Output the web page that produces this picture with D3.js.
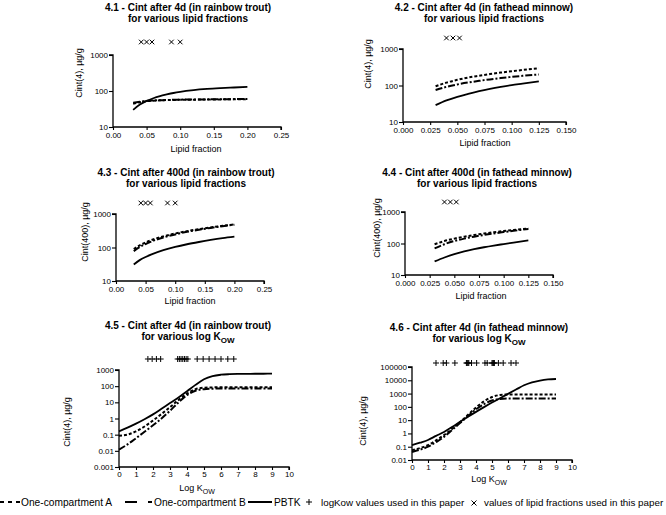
<!DOCTYPE html>
<html><head><meta charset="utf-8">
<script src="https://cdn.jsdelivr.net/npm/d3@7"></script>
<style>body{margin:0;background:#fff} text{font-family:"Liberation Sans",Arial,sans-serif;fill:#000}</style>
</head><body><svg id="c" width="666" height="515"></svg>
<script>
// ---------- data ----------
const lipid41 = [0.03,0.04,0.05,0.06,0.07,0.08,0.09,0.10,0.12,0.14,0.16,0.18,0.20];
const A41 = [44,49,52,54,55,56,56.5,57,57.5,58,58.5,59,59];
const B41 = [47,50,53,54.5,55.5,56,57,57.5,58,58.5,59,59.5,60];
const P41 = [30,42,53,63,72,80,88,95,106,114,120,125,130];

const lipid42 = [0.03,0.04,0.05,0.06,0.07,0.08,0.09,0.10,0.11,0.125];
const A42 = [95,120,143,165,185,206,226,246,266,295];
const B42 = [75,92,107,121,134,147,160,172,184,200];
const P42 = [29,39,49,59,70,81,92,103,113,130];

const lipid43 = [0.03,0.04,0.05,0.06,0.08,0.10,0.12,0.14,0.16,0.18,0.20];
const A43 = [90,116,141,167,215,262,308,354,399,443,488];
const B43 = [78,103,127,151,199,246,294,339,385,433,480];
const P43 = [31,42,52,62,83,104,125,146,168,190,210];

const lipid44 = [0.03,0.04,0.05,0.06,0.07,0.08,0.09,0.10,0.11,0.125];
const A44 = [95,120,143,165,186,207,228,249,270,300];
const B44 = [70,95,120,143,165,187,209,230,252,290];
const P44 = [27,36,46,56,66,76,86,96,107,125];

const logKow = [0,0.5,1,1.5,2,2.5,3,3.5,4,4.5,5,5.5,6,6.5,7,7.5,8,8.5,9];
const A45 = [0.085,0.1,0.16,0.32,0.75,1.9,5,14,35,65,80,84,85,85,85,85,85,85,85];
const B45 = [0.012,0.025,0.06,0.15,0.38,1.0,3,10,28,52,65,70,72,72,72,72,72,72,72];
const P45 = [0.16,0.27,0.48,0.9,1.8,4,9,20,48,120,270,420,510,550,570,580,585,588,590];

const A46 = [0.055,0.08,0.13,0.3,0.75,2.2,7,25,90,260,550,780,850,860,860,860,860,860,860];
const B46 = [0.04,0.06,0.1,0.22,0.55,1.8,6,20,65,160,300,390,420,420,420,420,420,420,420];
const P46 = [0.13,0.2,0.32,0.65,1.3,3,7.5,18,42,95,210,450,950,2000,4200,7000,9500,11500,12500];

const lipidTrout = [0.042,0.05,0.058,0.087,0.1];
const lipidMinnow = [0.04,0.046,0.052];
const kowTrout = [1.7,1.95,2.2,2.45,3.45,3.55,3.65,3.75,3.85,3.95,4.05,4.6,4.95,5.3,5.65,6.0,6.4,6.75];
const kowMinnow = [1.5,1.95,2.15,2.68,3.4,3.45,3.5,3.55,3.72,4.04,4.56,4.7,5.0,5.05,5.1,5.15,5.4,5.7,6.19,6.5];

const ticksLipid025 = [0,0.05,0.10,0.15,0.20,0.25];
const ticksLipid015 = [0,0.025,0.05,0.075,0.10,0.125,0.15];
const ticksKow = [0,1,2,3,4,5,6,7,8,9,10];
const ticksY3 = [10,100,1000];
const ticksY45 = [0.001,0.01,0.1,1,10,100,1000];
const ticksY46 = [0.01,0.1,1,10,100,1000,10000,100000];
const labelsY45 = ["0.001","0.01","0.1","1","10","100","1000"];
const labelsY46 = ["0.01","0.1","1","10","100","1000","10000","100000"];

const seriesNames = ["One-compartment A","One-compartment B","PBTK"];

// ---------- layout ----------
const panels = [
 {t1:"4.1 - Cint after 4d (in rainbow trout)", t2:"for various lipid fractions", tx:188, ty:10.5,
  xr:[113,281], xd:[0,0.25], xt:ticksLipid025, xf:d3.format(".2f"), xp:2, yr:[127,55], yd:[10,1000], yt:ticksY3, yf:d3.format("d"),
  yl:"Cint(4),  µg/g", ylx:79, yly:73, xl:"Lipid fraction", xlx:196, xly:152, x:lipid41, A:A41, B:B41, P:P41,
  marks:lipidTrout, mk:"x", my:42},
 {t1:"4.2 - Cint after 4d (in fathead minnow)", t2:"for various lipid fractions", tx:484, ty:10.5,
  xr:[403,566], xd:[0,0.15], xt:ticksLipid015, xf:d3.format(".3f"), xp:2, yr:[122,49], yd:[10,1000], yt:ticksY3, yf:d3.format("d"),
  yl:"Cint(4),  µg/g", ylx:368, yly:64, xl:"Lipid fraction", xlx:485, xly:146, x:lipid42, A:A42, B:B42, P:P42,
  marks:lipidMinnow, mk:"x", my:38},
 {t1:"4.3 - Cint after 400d (in rainbow trout)", t2:"for various lipid fractions", tx:186, ty:175.5,
  xr:[116,264], xd:[0,0.25], xt:ticksLipid025, xf:d3.format(".2f"), xp:2, yr:[281,214], yd:[10,1000], yt:ticksY3, yf:d3.format("d"),
  yl:"Cint(400),  µg/g", ylx:85, yly:232, xl:"Lipid fraction", xlx:190, xly:304, x:lipid43, A:A43, B:B43, P:P43,
  marks:lipidTrout, mk:"x", my:203},
 {t1:"4.4 - Cint after 400d (in fathead minnow)", t2:"for various lipid fractions", tx:477, ty:175.5,
  xr:[405,553], xd:[0,0.15], xt:ticksLipid015, xf:d3.format(".3f"), xp:2, yr:[275,212], yd:[10,1000], yt:ticksY3, yf:d3.format("d"),
  yl:"Cint(400),  µg/g", ylx:377, yly:228, xl:"Lipid fraction", xlx:481, xly:299, x:lipid44, A:A44, B:B44, P:P44,
  marks:lipidMinnow, mk:"x", my:202},
 {t1:"4.5 - Cint after 4d (in rainbow trout)", t2:"for various log K", sub:true, tx:188, ty:328.5,
  xr:[119,289], xd:[0,10], xt:ticksKow, xf:d3.format("d"), xp:1, yr:[467,370], yd:[0.001,1000], yt:ticksY45, ylabels:labelsY45,
  yl:"Cint(4),  µg/g", ylx:67, yly:422, xl:"Log K", xsub:true, xlx:197, xly:491, x:logKow, A:A45, B:B45, P:P45,
  marks:kowTrout, mk:"+", my:359},
 {t1:"4.6 - Cint after 4d (in fathead minnow)", t2:"for various log K", sub:true, tx:479, ty:330.5,
  xr:[412,572], xd:[0,10], xt:ticksKow, xf:d3.format("d"), xp:1, yr:[460,367], yd:[0.01,100000], yt:ticksY46, ylabels:labelsY46,
  yl:"Cint(4),  µg/g", ylx:363, yly:421, xl:"Log K", xsub:true, xlx:489, xly:482, x:logKow, A:A46, B:B46, P:P46,
  marks:kowMinnow, mk:"+", my:363}
];

const styles = {A:{dash:"3,2", w:2}, B:{dash:"7,2,2,2", w:2}, P:{dash:null, w:1.8}};

const svg = d3.select("#c");

panels.forEach(p => {
  const g = svg.append("g");
  const x = d3.scaleLinear().domain(p.xd).range(p.xr);
  const y = d3.scaleLog().domain(p.yd).range(p.yr);

  // title
  g.append("text").attr("x",p.tx).attr("y",p.ty).attr("text-anchor","middle")
    .style("font-weight","bold").style("font-size","10px").text(p.t1);
  const t2 = g.append("text").attr("x",p.tx).attr("y",p.ty+11.5).attr("text-anchor","middle")
    .style("font-weight","bold").style("font-size","10px").text(p.t2);
  if (p.sub) t2.append("tspan").attr("dy",3).style("font-size","8px").text("OW");

  // axes
  const xa = d3.axisBottom(x).tickValues(p.xt).tickFormat(p.xf).tickSize(3).tickPadding(p.xp);
  const ya = d3.axisLeft(y).tickValues(p.yt).tickSize(4).tickPadding(1)
    .tickFormat((d,i) => p.ylabels ? p.ylabels[i] : p.yf(d));
  const gx = g.append("g").attr("transform",`translate(0,${p.yr[0]})`).call(xa);
  const gy = g.append("g").attr("transform",`translate(${p.xr[0]},0)`).call(ya);
  [gx,gy].forEach(a => {
    a.select(".domain").attr("stroke","#000").attr("stroke-width",1.3);
    a.selectAll(".tick line").attr("stroke","#000").attr("stroke-width",1.1);
    a.selectAll(".tick text").style("font-size","8px").attr("fill","#000");
  });
  gx.select(".domain").attr("d",`M${p.xr[0]},0H${p.xr[1]}V3`);
  gy.select(".domain").attr("d",`M-4,${p.yr[1]}H0V${p.yr[0]}`);

  // axis titles
  g.append("text").attr("transform",`translate(${p.ylx},${p.yly}) rotate(-90)`)
    .attr("text-anchor","middle").attr("dominant-baseline","central").style("font-size","9px").text(p.yl);
  const xl = g.append("text").attr("x",p.xlx).attr("y",p.xly).attr("text-anchor","middle").style("font-size","9px").text(p.xl);
  if (p.xsub) xl.append("tspan").attr("dy",2.5).style("font-size","7px").text("OW");

  // curves
  const line = d3.line().x(d=>x(d[0])).y(d=>y(d[1])).curve(d3.curveMonotoneX);
  ["A","B","P"].forEach(k => {
    const pts = p.x.map((v,i)=>[v,p[k][i]]);
    g.append("path").attr("d",line(pts)).attr("fill","none").attr("stroke","#000")
      .attr("stroke-width",styles[k].w).attr("stroke-dasharray",styles[k].dash);
  });

  // marks
  g.selectAll(".mk").data(p.marks).enter().append("path")
    .attr("transform",d=>`translate(${x(d)},${p.my})`)
    .attr("d", p.mk==="x" ? "M-2.3,-2.3L2.3,2.3M-2.3,2.3L2.3,-2.3" : "M-3,0H3M0,-3V3")
    .attr("stroke","#000").attr("stroke-width",1).attr("fill","none");
});

// ---------- legend ----------
const lg = svg.append("g");
const ly = 502;
const legendItems = [
  {key:"A", x0:0, x1:20, tx:21},
  {key:"B", x0:125, x1:152, tx:154},
  {key:"P", x0:248, x1:272, tx:274}
];
legendItems.forEach((it,i) => {
  lg.append("line").attr("x1",it.x0).attr("x2",it.x1).attr("y1",ly).attr("y2",ly)
    .attr("stroke","#000").attr("stroke-width",2)
    .attr("stroke-dasharray", it.key==="A" ? "4,4" : it.key==="B" ? "12,11,4,2" : null);
  lg.append("text").attr("x",it.tx).attr("y",ly+3.5).style("font-size","10.2px").text(seriesNames[i]);
});
lg.append("path").attr("d","M306,502H312M309,499V505").attr("stroke","#000").attr("stroke-width",1);
lg.append("text").attr("x",321).attr("y",ly+3.5).style("font-size","9.8px").text("logKow values used in this paper");
lg.append("path").attr("d","M471.5,500.5L476.5,505.5M471.5,505.5L476.5,500.5").attr("stroke","#000").attr("stroke-width",1);
lg.append("text").attr("x",484).attr("y",ly+3.5).style("font-size","9.8px").text("values of lipid fractions used in this paper");
</script></body></html>
